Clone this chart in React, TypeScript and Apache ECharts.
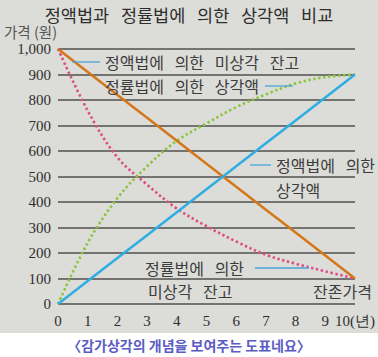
import React, { useEffect, useRef } from "react";
import * as echarts from "echarts";

const years = [0, 1, 2, 3, 4, 5, 6, 7, 8, 9, 10];
const straightBalance = [1000, 910, 820, 730, 640, 550, 460, 370, 280, 190, 100];
const straightDep = [0, 90, 180, 270, 360, 450, 540, 630, 720, 810, 900];
const decliningBalance = [1000, 758, 575, 468, 374, 305, 245, 193, 158, 128, 100];
const decliningDep = [0, 240, 415, 540, 640, 708, 772, 822, 865, 890, 900];
const yTicks = [0, 100, 200, 300, 400, 500, 600, 700, 800, 900, 1000];

const KR = '"Noto Sans CJK KR", "Noto Sans", sans-serif';
const SERIF = '"Liberation Serif", "DejaVu Serif", serif';

export default function App() {
  const ref = useRef<HTMLDivElement>(null);
  useEffect(() => {
    document.body.style.margin = "0";
    const chart = echarts.init(ref.current!, null, { renderer: "svg" });
    const pair = (ys: number[]) => years.map((x, i) => [x, ys[i]]);
    const txt = (text: string, x: number, y: number, extra: any = {}) => ({
      type: "text",
      x,
      y,
      z: 50,
      style: {
        text,
        fill: "#3d3d3d",
        font: `16px ${KR}`,
        align: "left",
        verticalAlign: "middle",
        ...extra,
      },
    });
    const lead = (x1: number, y: number, x2: number) => ({
      type: "line",
      z: 50,
      shape: { x1, y1: y, x2, y2: y },
      style: { stroke: "#4aa6d6", lineWidth: 1.3 },
    });
    chart.setOption({
      animation: false,
      backgroundColor: "#ffffff",
      title: {
        text: "정액법과   정률법에   의한   상각액   비교",
        left: "center",
        top: 1,
        textStyle: { fontFamily: KR, fontSize: 17.5, fontWeight: "normal", color: "#2e2e2e" },
      },
      grid: { left: 58, right: 8, top: 49, bottom: 53 },
      xAxis: {
        type: "value",
        min: 0,
        max: 10,
        interval: 1,
        axisLine: { show: false },
        axisTick: { show: false },
        splitLine: { show: false },
        axisLabel: {
          margin: 9,
          fontFamily: SERIF,
          fontSize: 15,
          color: "#2e2e2e",
          formatter: (v: number) => (v === 10 ? "10(년)" : String(v)),
        },
      },
      yAxis: {
        type: "value",
        min: 0,
        max: 1000,
        interval: 100,
        axisLine: { show: false },
        axisTick: { show: false },
        splitLine: { show: true, lineStyle: { color: "#505050", width: 1.5 } },
        axisLabel: {
          margin: 7,
          fontFamily: SERIF,
          fontSize: 15,
          color: "#2e2e2e",
          formatter: (v: number) => (yTicks.includes(v) ? v.toLocaleString("en-US") : ""),
        },
      },
      series: [
        {
          name: "정액법에 의한 미상각 잔고",
          type: "line",
          data: pair(straightBalance),
          symbol: "none",
          lineStyle: { color: "#d6761a", width: 2.5 },
          z: 4,
        },
        {
          name: "정액법에 의한 상각액",
          type: "line",
          data: pair(straightDep),
          symbol: "none",
          lineStyle: { color: "#2eaee2", width: 2.5 },
          z: 4,
        },
        {
          name: "정률법에 의한 미상각 잔고",
          type: "line",
          data: pair(decliningBalance),
          smooth: 0.35,
          symbol: "none",
          lineStyle: { color: "#de4b86", width: 2.6, type: [2.4, 2.6] },
          z: 3,
        },
        {
          name: "정률법에 의한 상각액",
          type: "line",
          data: pair(decliningDep),
          smooth: 0.35,
          symbol: "none",
          lineStyle: { color: "#8cc43e", width: 2.6, type: [2.4, 2.6] },
          z: 3,
        },
      ],
      graphic: [
        { type: "rect", z: -10, left: 0, top: 0, shape: { width: 378, height: 333 }, style: { fill: "#dcdcd8" } },
        txt("가격 (원)", 4, 31, { fill: "#555555", font: `14.5px ${KR}` }),
        lead(72, 62, 100),
        txt("정액법에   의한   미상각   잔고", 105, 62),
        txt("정률법에   의한   상각액", 105, 86),
        lead(265, 86, 293),
        lead(250, 165, 271),
        txt("정액법에   의한", 276, 165),
        txt("상각액", 276, 190),
        txt("정률법에   의한", 145, 268),
        lead(255, 268, 309),
        txt("미상각   잔고", 148, 291),
        txt("잔존가격", 313, 291),
        {
          type: "text",
          x: 189,
          y: 345,
          z: 50,
          style: {
            text: "〈감가상각의 개념을 보여주는 도표네요〉",
            fill: "#5a5cc4",
            font: `bold 14px ${KR}`,
            align: "center",
            verticalAlign: "middle",
          },
        },
      ],
    });
    return () => chart.dispose();
  }, []);
  return <div ref={ref} style={{ width: 378, height: 357 }} />;
}
